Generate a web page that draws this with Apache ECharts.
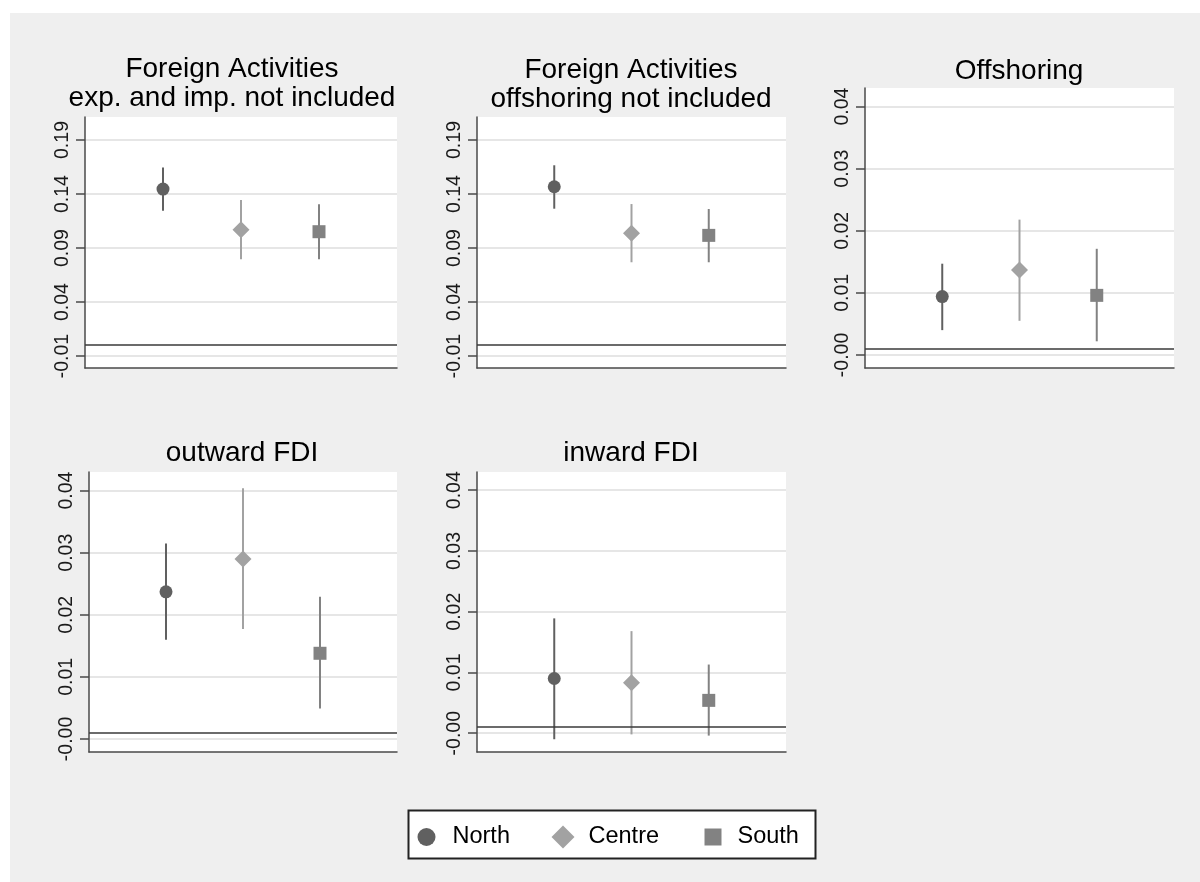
<!DOCTYPE html>
<html>
<head>
<meta charset="utf-8">
<script src="https://cdn.jsdelivr.net/npm/echarts@6/dist/echarts.min.js"></script>
<style>html,body{margin:0;padding:0;background:#fff}#c{width:1200px;height:882px}</style>
</head>
<body>
<div id="c"></div>
<script>
// ---- data ----
const regions = ['North', 'Centre', 'South'];
const panelTitles = [
  'Foreign Activities\nexp. and imp. not included',
  'Foreign Activities\noffshoring not included',
  'Offshoring',
  'outward FDI',
  'inward FDI'
];
// point estimates per panel
const estNorth  = [0.1446, 0.1467, 0.0084, 0.0227, 0.0080];
const estCentre = [0.1069, 0.1036, 0.0127, 0.0280, 0.0073];
const estSouth  = [0.1051, 0.1017, 0.0086, 0.0128, 0.0044];
// confidence intervals per panel
const loNorth  = [0.1245, 0.1264, 0.0030, 0.0150, -0.0020];
const hiNorth  = [0.1645, 0.1666, 0.0137, 0.0305, 0.0179];
const loCentre = [0.0795, 0.0768, 0.0045, 0.0167, -0.0012];
const hiCentre = [0.1344, 0.1307, 0.0208, 0.0394, 0.0158];
const loSouth  = [0.0795, 0.0768, 0.0012, 0.0039, -0.0014];
const hiSouth  = [0.1305, 0.1261, 0.0161, 0.0219, 0.0103];
// y tick values
const ticksLarge = [-0.01, 0.04, 0.09, 0.14, 0.19];
const ticksSmall = [-0.001, 0.009, 0.019, 0.029, 0.039];
// axis ranges
const yMin = [-0.0211, -0.0211, -0.0031, -0.0031, -0.0041];
const yMax = [0.2113, 0.2113, 0.0420, 0.0420, 0.0420];

// ---- layout / style ----
const grids = [
  {left: 85,  top: 117, width: 312, height: 251},
  {left: 477, top: 117, width: 309, height: 251},
  {left: 865, top: 88,  width: 309, height: 280},
  {left: 89,  top: 472, width: 308, height: 280},
  {left: 477, top: 472, width: 309, height: 280}
];
const titleCenters = [[232, 55], [631, 56], [1019, 57], [242, 439], [631, 439]];
const colors = {North: '#606060', Centre: '#a2a2a2', South: '#828282'};
const symbols = {North: 'circle', Centre: 'diamond', South: 'rect'};
const symSizes = {North: 13, Centre: 17, South: 13};
const est = {North: estNorth, Centre: estCentre, South: estSouth};
const lo = {North: loNorth, Centre: loCentre, South: loSouth};
const hi = {North: hiNorth, Centre: hiCentre, South: hiSouth};

const FONT = 'Liberation Sans, Arial, sans-serif';

const option = {
  backgroundColor: '#efefef',
  animation: false,
  textStyle: {fontFamily: FONT},
  title: panelTitles.map((t, i) => ({
    text: t,
    left: titleCenters[i][0],
    top: titleCenters[i][1],
    textAlign: 'center',
    padding: 0,
    textStyle: {fontFamily: FONT, fontSize: 28, fontWeight: 'normal', color: '#000', lineHeight: 29}
  })),
  grid: grids.map(g => Object.assign({show: true, backgroundColor: '#fff', borderWidth: 0}, g)),
  xAxis: grids.map((g, i) => ({
    type: 'value', gridIndex: i, min: 0, max: 4,
    axisLine: {show: true, onZero: false, lineStyle: {color: '#4a4a4a', width: 1.5}},
    axisTick: {show: false}, axisLabel: {show: false}, splitLine: {show: false}
  })),
  yAxis: grids.map((g, i) => {
    const ticks = i < 2 ? ticksLarge : ticksSmall;
    return {
      type: 'value', gridIndex: i, min: yMin[i], max: yMax[i],
      axisLine: {show: true, onZero: false, lineStyle: {color: '#4a4a4a', width: 1.5}},
      axisTick: {show: true, length: 9, customValues: ticks, lineStyle: {color: '#4a4a4a', width: 1.5}},
      axisLabel: {
        customValues: ticks, rotate: 90, margin: 12,
        fontFamily: FONT, fontSize: 19.5, color: '#1a1a1a',
        formatter: v => v.toFixed(2)
      },
      splitLine: {show: true, lineStyle: {color: '#e6e6e6', width: 2}}
    };
  }),
  legend: regions.map((r, k) => ({
    data: [{name: r, icon: symbols[r]}],
    left: [417.5, 551.5, 704.5][k],
    top: 825,
    padding: 0,
    itemWidth: symSizes[r] + [5, 6, 4][k],
    itemHeight: symSizes[r] + [5, 6, 4][k],
    selectedMode: false,
    textStyle: {fontFamily: FONT, fontSize: 23.5, color: '#000', lineHeight: 24,
                padding: [0, 0, 0, [12, 9, 11][k]]}
  })),
  graphic: [
    {type: 'rect', shape: {x: 0, y: 0, width: 1200, height: 13}, style: {fill: '#fff'}, silent: true},
    {type: 'rect', shape: {x: 0, y: 0, width: 10, height: 882}, style: {fill: '#fff'}, silent: true},
    {type: 'rect', shape: {x: 408.5, y: 810.5, width: 407, height: 48}, style: {fill: '#fff', stroke: '#222', lineWidth: 2}, silent: true, z: -1}
  ],
  series: []
};

grids.forEach((g, i) => {
  regions.forEach((r, k) => {
    const xPos = k + 1;
    option.series.push({
      type: 'custom', name: r + ' CI', xAxisIndex: i, yAxisIndex: i,
      data: [[xPos, lo[r][i], hi[r][i]]],
      encode: {x: 0, y: [1, 2]},
      z: 2,
      renderItem: (params, api) => {
        const a = api.coord([api.value(0), api.value(1)]);
        const b = api.coord([api.value(0), api.value(2)]);
        return {type: 'line', shape: {x1: a[0], y1: a[1], x2: b[0], y2: b[1]},
                style: {stroke: colors[r], lineWidth: 2}};
      }
    });
    option.series.push({
      type: 'scatter', name: r, xAxisIndex: i, yAxisIndex: i,
      data: [[xPos, est[r][i]]],
      symbol: symbols[r], symbolSize: symSizes[r],
      itemStyle: {color: colors[r], opacity: 1},
      z: 3,
      markLine: k === 0 ? {
        silent: true, symbol: 'none', label: {show: false},
        lineStyle: {color: '#3a3a3a', width: 1.5, type: 'solid'},
        data: [{yAxis: 0}]
      } : undefined
    });
  });
});

const chart = echarts.init(document.getElementById('c'), null, {renderer: 'canvas'});
chart.setOption(option);
</script>
</body>
</html>
